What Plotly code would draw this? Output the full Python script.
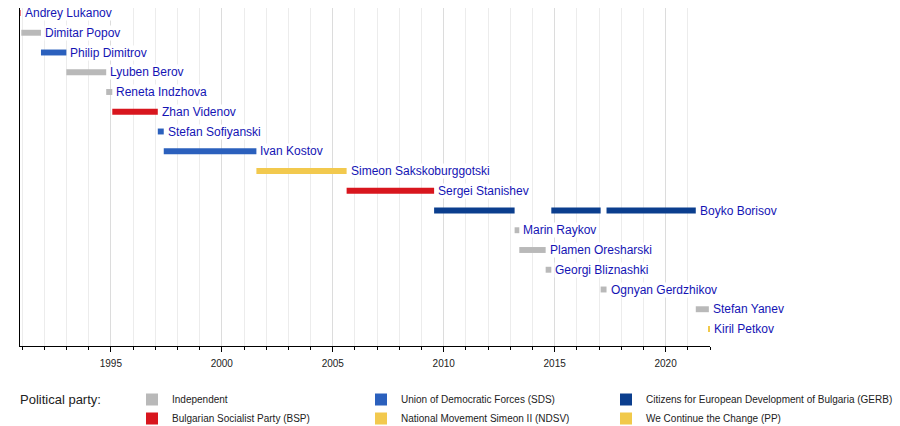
import pandas as pd
import plotly.graph_objects as go

# Prime ministers, top to bottom
PM_NAMES = [
    "Andrey Lukanov", "Dimitar Popov", "Philip Dimitrov", "Lyuben Berov",
    "Reneta Indzhova", "Zhan Videnov", "Stefan Sofiyanski", "Ivan Kostov",
    "Simeon Sakskoburggotski", "Sergei Stanishev", "Boyko Borisov",
    "Marin Raykov", "Plamen Oresharski", "Georgi Bliznashki",
    "Ognyan Gerdzhikov", "Stefan Yanev", "Kiril Petkov",
]

# terms in office (Borisov has three)
TERM_PM = [
    "Andrey Lukanov", "Dimitar Popov", "Philip Dimitrov", "Lyuben Berov",
    "Reneta Indzhova", "Zhan Videnov", "Stefan Sofiyanski", "Ivan Kostov",
    "Simeon Sakskoburggotski", "Sergei Stanishev", "Boyko Borisov",
    "Marin Raykov", "Plamen Oresharski", "Georgi Bliznashki", "Boyko Borisov",
    "Ognyan Gerdzhikov", "Boyko Borisov", "Stefan Yanev", "Kiril Petkov",
]
TERM_PARTY = [
    "BSP", "IND", "SDS", "IND", "IND", "BSP", "SDS", "SDS", "NDSV", "BSP",
    "GERB", "IND", "IND", "IND", "GERB", "IND", "GERB", "IND", "PP",
]
TERM_START = [
    "1990-02-08", "1990-12-20", "1991-11-08", "1992-12-30", "1994-10-17",
    "1995-01-25", "1997-02-12", "1997-05-21", "2001-07-24", "2005-08-17",
    "2009-07-27", "2013-03-13", "2013-05-29", "2014-08-06", "2014-11-07",
    "2017-01-27", "2017-05-04", "2021-05-12", "2021-12-13",
]
TERM_END = [
    "1990-12-07", "1991-11-08", "1992-12-30", "1994-10-17", "1995-01-25",
    "1997-02-12", "1997-05-21", "2001-07-24", "2005-08-17", "2009-07-27",
    "2013-03-13", "2013-05-29", "2014-08-06", "2014-11-07", "2017-01-27",
    "2017-05-04", "2021-05-12", "2021-12-13", "2022-01-01",
]

# legend order: column by column
PARTY_KEYS = ["IND", "BSP", "SDS", "NDSV", "GERB", "PP"]
PARTY_LABELS = [
    "Independent", "Bulgarian Socialist Party (BSP)",
    "Union of Democratic Forces (SDS)", "National Movement Simeon II (NDSV)",
    "Citizens for European Development of Bulgaria (GERB)",
    "We Continue the Change (PP)",
]
PARTY_COLORS = ["#b9b9b9", "#d8161e", "#2b60bd", "#f2c94e", "#0b3e8e", "#f1c94a"]
PARTY_LEGENDS = ["legend", "legend", "legend2", "legend2", "legend3", "legend3"]

TICK_YEARS = [1995, 2000, 2005, 2010, 2015, 2020]
X_RANGE = ["1990-11-28", "2022-01-01"]

LABEL_COLOR = "#1414b4"
FONT = "Liberation Sans, Arial, sans-serif"

row_of = {name: i for i, name in enumerate(PM_NAMES)}

fig = go.Figure()

for key, label, color, leg in zip(PARTY_KEYS, PARTY_LABELS, PARTY_COLORS, PARTY_LEGENDS):
    idx = [i for i, p in enumerate(TERM_PARTY) if p == key]
    starts = pd.to_datetime([TERM_START[i] for i in idx])
    ends = pd.to_datetime([TERM_END[i] for i in idx])
    fig.add_trace(go.Bar(
        orientation="h",
        base=[s.strftime("%Y-%m-%d") for s in starts],
        x=((ends - starts).total_seconds() * 1000).tolist(),
        y=[row_of[TERM_PM[i]] for i in idx],
        width=0.3,
        marker=dict(color=color, line=dict(width=0)),
        name=label,
        legend=leg,
        hoverinfo="skip",
    ))

# name label after the last term of each PM
for name in PM_NAMES:
    last_end = max(pd.to_datetime(TERM_END[i]) for i, p in enumerate(TERM_PM) if p == name)
    fig.add_annotation(
        x=last_end.strftime("%Y-%m-%d"), y=row_of[name],
        text=name, showarrow=False, xanchor="left", yanchor="middle",
        xshift=3, bgcolor="white", borderpad=0,
        font=dict(family=FONT, size=12, color=LABEL_COLOR),
    )

fig.add_annotation(
    text="Political party:", xref="paper", yref="paper", x=0, y=-0.157,
    xanchor="left", yanchor="middle", xshift=-2, showarrow=False,
    font=dict(family=FONT, size=13, color="#222222"),
)

legend_style = dict(
    orientation="v", xanchor="left", yanchor="top", y=-0.1154,
    font=dict(family=FONT, size=10, color="#222222"),
    bgcolor="rgba(0,0,0,0)", tracegroupgap=0, itemclick=False, itemdoubleclick=False,
)

fig.update_layout(
    width=900, height=426,
    margin=dict(l=20, r=190, t=8, b=80, autoexpand=False),
    plot_bgcolor="white", paper_bgcolor="white",
    barmode="overlay",
    font=dict(family=FONT),
    legend=dict(legend_style, x=(132 - 20) / 690),
    legend2=dict(legend_style, x=(361 - 20) / 690),
    legend3=dict(legend_style, x=(606 - 20) / 690),
    xaxis=dict(
        type="date", range=X_RANGE,
        tickvals=[f"{y}-01-01" for y in TICK_YEARS],
        ticktext=[str(y) for y in TICK_YEARS],
        ticks="outside", ticklen=5, tickcolor="black", ticklabelstandoff=3,
        tickfont=dict(family=FONT, size=10, color="#222222"),
        showline=True, linecolor="black", linewidth=1,
        showgrid=True, gridcolor="#dcdcdc", gridwidth=1,
        zeroline=False,
        minor=dict(dtick="M12", tick0="1991-01-01", ticks="outside", ticklen=3,
                   tickcolor="black", showgrid=True, gridcolor="#ececec"),
    ),
    yaxis=dict(
        range=[16.861, -0.253], showticklabels=False, ticks="",
        showline=True, linecolor="black", linewidth=1,
        showgrid=False, zeroline=False,
    ),
)

# page body has a default 8px margin; drop it so the figure sits at 0,0
fig.write_html("out.html", config={"displayModeBar": False},
               post_script="document.body.style.margin='0';")
